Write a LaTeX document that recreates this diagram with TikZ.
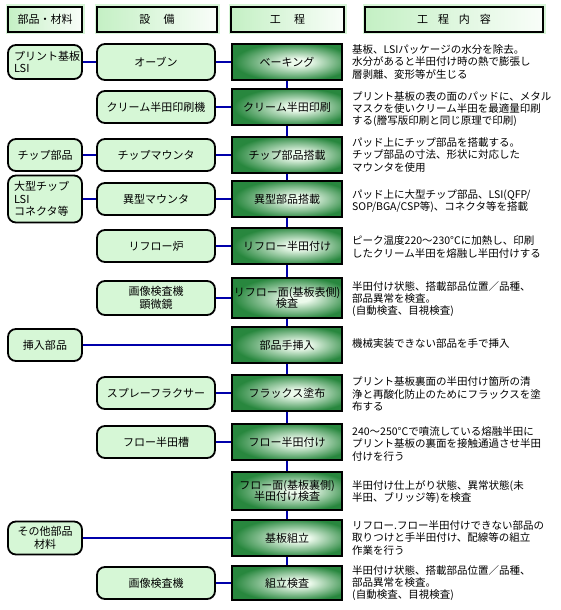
\documentclass[tikz,border=0pt]{standalone}
\usepackage{fontspec}
\newfontfamily\jp{Noto Sans CJK JP}
\definecolor{procdark}{RGB}{40,135,62}
\definecolor{proclight}{RGB}{236,250,236}
\definecolor{boxfill}{RGB}{214,247,214}
\definecolor{hdrgreen}{RGB}{196,240,196}
\definecolor{hdrglow}{RGB}{215,245,215}
\definecolor{linkblue}{RGB}{0,0,170}
\pgfdeclareradialshading{procshade}{\pgfpoint{6bp}{0bp}}{color(0bp)=(proclight); color(5bp)=(proclight); color(27bp)=(procdark); color(50bp)=(procdark)}
\tikzset{
  every node/.style={font=\jp\fontsize{11}{12.5}\selectfont, inner sep=0pt},
  hdr/.style={draw=black, line width=1.8pt, left color=hdrgreen, right color=white!90!hdrgreen,
    preaction={draw=hdrglow, line width=5pt}, minimum height=25pt},
  roundbox/.style={draw=black, line width=1.8pt, rounded corners=8pt, fill=boxfill, align=center},
  leftbox/.style={roundbox, minimum width=74pt},
  equipbox/.style={roundbox, minimum width=118pt, minimum height=32pt},
  procbox/.style={draw=black, line width=1.8pt, shading=procshade, minimum width=110pt, minimum height=36pt, align=center},
  desc/.style={anchor=west, align=left, font=\jp\fontsize{10.5}{12.2}\selectfont},
  link/.style={draw=linkblue, line width=2pt}
}
\begin{document}
\begin{tikzpicture}[x=1pt,y=-1pt]
\useasboundingbox (0,0) rectangle (560,610);
% headers
\node[hdr, minimum width=74pt] (h1) at (45,19.5) {部品・材料};
\node[hdr, minimum width=120pt] (h2) at (157,19.5) {設\hspace{1.2em}備};
\node[hdr, minimum width=113pt] (h3) at (287.5,19.5) {工\hspace{1.2em}程};
\node[hdr, minimum width=178pt] (h4) at (454,19.5) {工\hspace{0.9em}程\hspace{0.9em}内\hspace{0.9em}容};
% process boxes
\node[procbox] (p1) at (287,62) {ベーキング};
\node[procbox] (p2) at (287,107) {クリーム半田印刷};
\node[procbox] (p3) at (287,155) {チップ部品搭載};
\node[procbox] (p4) at (287,199) {異型部品搭載};
\node[procbox] (p5) at (287,246) {リフロー半田付け};
\node[procbox, minimum height=40pt] (p6) at (287,298) {リフロー面(基板表側)\\[-1pt]検査};
\node[procbox] (p7) at (287,345) {部品手挿入};
\node[procbox] (p8) at (287,393) {フラックス塗布};
\node[procbox] (p9) at (287,442) {フロー半田付け};
\node[procbox, minimum height=38pt] (p10) at (287,491) {フロー面(基板裏側)\\[-1pt]半田付け検査};
\node[procbox] (p11) at (287,538) {基板組立};
\node[procbox, minimum height=34pt] (p12) at (287,583) {組立検査};
% equipment
\node[equipbox, minimum height=36pt] (e1) at (156,62) {オーブン};
\node[equipbox] (e2) at (156,107) {クリーム半田印刷機};
\node[equipbox] (e3) at (156,155) {チップマウンタ};
\node[equipbox] (e4) at (156,199) {異型マウンタ};
\node[equipbox] (e5) at (156,246) {リフロー炉};
\node[equipbox, minimum height=34pt] (e6) at (156,298) {画像検査機\\顕微鏡};
\node[equipbox] (e8) at (156,393) {スプレーフラクサー};
\node[equipbox] (e9) at (156,442) {フロー半田槽};
\node[equipbox] (e12) at (156,583) {画像検査機};
% parts
\node[leftbox, minimum height=34pt, align=left, text width=62pt] (l1) at (45,62) {プリント基板\\LSI};
\node[leftbox, minimum height=32pt] (l3) at (45,155) {チップ部品};
\node[leftbox, minimum height=47pt, align=left, text width=62pt] (l4) at (45,199) {大型チップ\\LSI\\コネクタ等};
\node[leftbox, minimum height=32pt] (l7) at (45,345) {挿入部品};
\node[leftbox, minimum height=33pt] (l11) at (45,538) {その他部品\\材料};
% connectors
\draw[link] (l1) -- (e1);
\draw[link] (e1) -- (p1);
\draw[link] (e2) -- (p2);
\draw[link] (l3) -- (e3);
\draw[link] (e3) -- (p3);
\draw[link] (l4) -- (e4);
\draw[link] (e4) -- (p4);
\draw[link] (e5) -- (p5);
\draw[link] (e6) -- (p6);
\draw[link] (l7) -- (p7);
\draw[link] (e8) -- (p8);
\draw[link] (e9) -- (p9);
\draw[link] (l11) -- (p11);
\draw[link] (e12) -- (p12);
\draw[link] (p1) -- (p2);
\draw[link] (p2) -- (p3);
\draw[link] (p3) -- (p4);
\draw[link] (p4) -- (p5);
\draw[link] (p5) -- (p6);
\draw[link] (p6) -- (p7);
\draw[link] (p7) -- (p8);
\draw[link] (p8) -- (p9);
\draw[link] (p9) -- (p10);
\draw[link] (p10) -- (p11);
\draw[link] (p11) -- (p12);
% descriptions
\node[desc] (d1) at (352,62) {基板、LSIパッケージの水分を除去。\\水分があると半田付け時の熱で膨張し\\層剥離、変形等が生じる};
\node[desc] (d2) at (352,109) {プリント基板の表の面のパッドに、メタル\\マスクを使いクリーム半田を最適量印刷\\する(謄写版印刷と同じ原理で印刷)};
\node[desc] (d3) at (352,155) {パッド上にチップ部品を搭載する。\\チップ部品の寸法、形状に対応した\\マウンタを使用};
\node[desc] (d4) at (352,201) {パッド上に大型チップ部品、LSI(QFP/\\SOP/BGA/CSP等)、コネクタ等を搭載};
\node[desc] (d5) at (352,247) {ピーク温度220〜230°Cに加熱し、印刷\\したクリーム半田を熔融し半田付けする};
\node[desc] (d6) at (352,299) {半田付け状態、搭載部品位置／品種、\\部品異常を検査。\\(自動検査、目視検査)};
\node[desc] (d7) at (352,344) {機械実装できない部品を手で挿入};
\node[desc] (d8) at (352,394) {プリント基板裏面の半田付け箇所の清\\浄と再酸化防止のためにフラックスを塗\\布する};
\node[desc] (d9) at (352,444) {240〜250°Cで噴流している熔融半田に\\プリント基板の裏面を接触通過させ半田\\付けを行う};
\node[desc] (d10) at (352,492) {半田付け仕上がり状態、異常状態(未\\半田、ブリッジ等)を検査};
\node[desc] (d11) at (352,538) {リフロー.フロー半田付けできない部品の\\取りつけと手半田付け、配線等の組立\\作業を行う};
\node[desc] (d12) at (352,583) {半田付け状態、搭載部品位置／品種、\\部品異常を検査。\\(自動検査、目視検査)};
\end{tikzpicture}
\end{document}
